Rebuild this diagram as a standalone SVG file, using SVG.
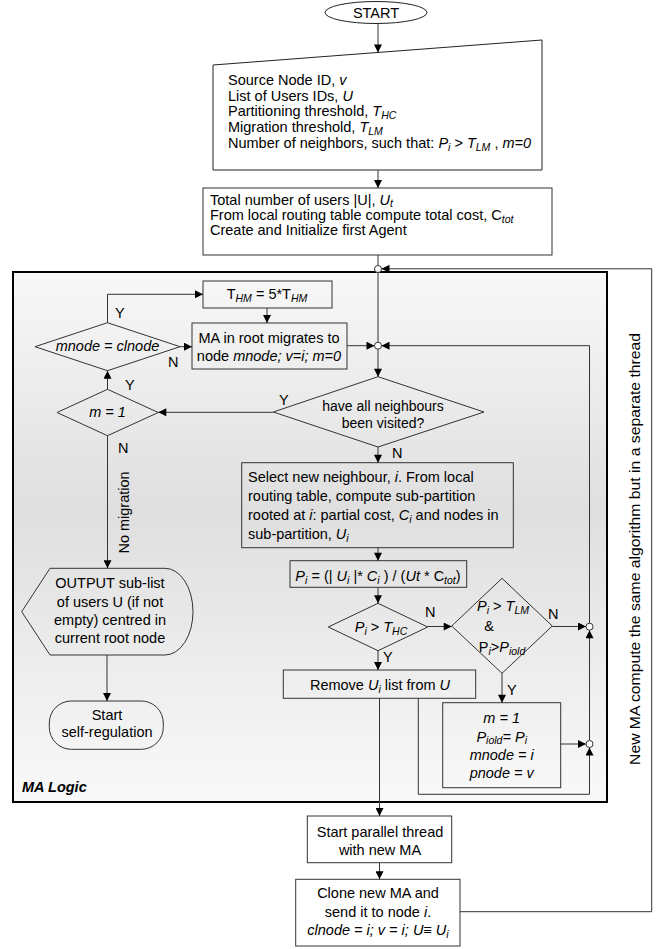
<svg xmlns="http://www.w3.org/2000/svg" width="667" height="949" viewBox="0 0 667 949">
<style>
text{font-family:"Liberation Sans",Arial,sans-serif;font-size:14.5px;fill:#000}
.c{text-anchor:middle}
.i{font-style:italic}
.s{font-size:10.5px}
.n14{font-size:14px}
.box{fill:none;stroke:#333;stroke-width:1}
.wbox{fill:#fff;stroke:#333;stroke-width:1}
.ln{fill:none;stroke:#333;stroke-width:1}
.ar{fill:none;stroke:#333;stroke-width:1;marker-end:url(#ah)}
.jn{fill:#fff;stroke:#333;stroke-width:1}
</style>
<defs>
<marker id="ah" viewBox="0 0 10 10" refX="10" refY="5" markerWidth="9" markerHeight="8" markerUnits="userSpaceOnUse" orient="auto"><path d="M0,0 L10,5 L0,10 z" fill="#000"/></marker>
<linearGradient id="pg" x1="0" y1="0" x2="0" y2="1">
<stop offset="0" stop-color="#f8f8f8"/>
<stop offset="0.45" stop-color="#dfdfdf"/>
<stop offset="1" stop-color="#f9f9f9"/>
</linearGradient>
</defs>
<rect width="667" height="949" fill="#fff"/>

<g id="ma-logic">
<rect x="13" y="272" width="594" height="530" fill="url(#pg)" stroke="#000" stroke-width="2"/>
<text x="22" y="792" font-weight="bold" font-style="italic">MA Logic</text>
</g>

<g id="start">
<ellipse cx="376" cy="12.5" rx="51" ry="11" fill="#fff" stroke="#222"/>
<text class="c" x="376" y="18">START</text>
</g>

<g id="input">
<polygon points="213,65 542,40 542,170 213,170" fill="#fff" stroke="#222"/>
<text x="228" y="85">Source Node ID, <tspan class="i">v</tspan></text>
<text x="228" y="101">List of Users  IDs, <tspan class="i">U</tspan></text>
<text x="228" y="116">Partitioning threshold, <tspan class="i">T</tspan><tspan class="i s" dy="2.5">HC</tspan></text>
<text x="228" y="132">Migration threshold, <tspan class="i">T</tspan><tspan class="i s" dy="2.5">LM</tspan></text>
<text x="228" y="148">Number of neighbors, such that: <tspan class="i">P</tspan><tspan class="i s" dy="2.5">i</tspan><tspan dy="-2.5"> &gt; </tspan><tspan class="i">T</tspan><tspan class="i s" dy="2.5">LM</tspan><tspan dy="-2.5"> , </tspan><tspan class="i">m=0</tspan></text>
</g>

<g id="init">
<rect class="wbox" x="203" y="188" width="349" height="67"/>
<text x="210" y="205">Total number of users |U|, <tspan class="i">U</tspan><tspan class="i s" dy="1.5">t</tspan></text>
<text x="210" y="220">From local routing table compute total cost, C<tspan class="i s" dy="2.5">tot</tspan></text>
<text x="210" y="235">Create and Initialize first Agent</text>
</g>

<g id="thm">
<rect class="box" x="203" y="281" width="129" height="27"/>
<text class="c" x="267" y="299">T<tspan class="i s" dy="2.5">HM</tspan><tspan dy="-2.5"> = 5*T</tspan><tspan class="i s" dy="2.5">HM</tspan></text>
</g>

<g id="migrate">
<rect class="box" x="192" y="323" width="155" height="46"/>
<text class="c" x="269" y="343">MA in root migrates to</text>
<text class="c" x="269" y="361">node <tspan class="i">mnode; v=i; m=0</tspan></text>
</g>

<g id="mnode-dec">
<polygon class="box" points="35,346.7 107.5,322.7 180,346.7 107.5,370.7"/>
<text class="c i" x="107.5" y="351">mnode = clnode</text>
</g>

<g id="m1-dec">
<polygon class="box" points="57,412.5 107.5,389.3 158.3,412.5 107.5,435.7"/>
<text class="c i" x="107.5" y="417">m = 1</text>
</g>

<g id="visited-dec">
<polygon class="box" points="273.3,412 378,376.7 484,412 378,447"/>
<text class="c n14" x="383" y="411">have all neighbours</text>
<text class="c n14" x="383" y="428">been visited?</text>
</g>

<g id="select">
<rect class="box" x="241.7" y="462.7" width="271.6" height="85"/>
<text x="248" y="481.7">Select new neighbour, <tspan class="i">i</tspan>. From local</text>
<text x="248" y="500.7">routing table, compute sub-partition</text>
<text x="248" y="520">rooted at <tspan class="i">i</tspan>: partial cost, <tspan class="i">C</tspan><tspan class="i s" dy="2.5">i</tspan><tspan dy="-2.5"> and nodes in</tspan></text>
<text x="248" y="539">sub-partition, <tspan class="i">U</tspan><tspan class="i s" dy="2.5">i</tspan></text>
</g>

<g id="pi-calc">
<rect class="box" x="290" y="560.7" width="176.7" height="26.6"/>
<text class="c" x="378" y="581"><tspan class="i">P</tspan><tspan class="i s" dy="2.5">i</tspan><tspan dy="-2.5"> = (| </tspan><tspan class="i">U</tspan><tspan class="i s" dy="2.5">i</tspan><tspan dy="-2.5"> |* </tspan><tspan class="i">C</tspan><tspan class="i s" dy="2.5">i</tspan><tspan dy="-2.5"> ) / (</tspan><tspan class="i">Ut</tspan> * C<tspan class="i s" dy="2.5">tot</tspan><tspan dy="-2.5">)</tspan></text>
</g>

<g id="thc-dec">
<polygon class="box" points="328.3,627 378,603.3 427.7,627 378,650.7"/>
<text class="c" x="381" y="632"><tspan class="i">P</tspan><tspan class="i s" dy="2.5">i</tspan><tspan dy="-2.5"> &gt; </tspan><tspan class="i">T</tspan><tspan class="i s" dy="2.5">HC</tspan></text>
</g>

<g id="tlm-dec">
<polygon class="box" points="451.7,626 502,578.3 552.3,626 502,673.3"/>
<text class="c" x="503" y="611"><tspan class="i">P</tspan><tspan class="i s" dy="2.5">i</tspan><tspan dy="-2.5"> &gt; </tspan><tspan class="i">T</tspan><tspan class="i s" dy="2.5">LM</tspan></text>
<text class="c" x="489" y="631">&amp;</text>
<text class="c" x="502" y="652">P<tspan class="i s" dy="2.5">i</tspan><tspan dy="-2.5">&gt;</tspan><tspan class="i">P</tspan><tspan class="i s" dy="2.5">iold</tspan></text>
</g>

<g id="remove">
<rect class="box" x="283.3" y="670" width="192.4" height="28.3"/>
<text class="c" x="380" y="690">Remove <tspan class="i">U</tspan><tspan class="i s" dy="2.5">i</tspan><tspan dy="-2.5"> list from </tspan><tspan class="i">U</tspan></text>
</g>

<g id="update">
<rect class="box" x="442.7" y="702.7" width="118" height="85"/>
<text class="c i" x="501.7" y="723">m = 1</text>
<text class="c i" x="501.7" y="741.7">P<tspan class="s" dy="2.5">iold</tspan><tspan dy="-2.5">= P</tspan><tspan class="s" dy="2.5">i</tspan></text>
<text class="c i" x="501.7" y="760">mnode = i</text>
<text class="c i" x="501.7" y="778">pnode = v</text>
</g>

<g id="output">
<path class="box" d="M21.7,611.7 L50,568.3 L165,568.3 A28,43.35 0 0 1 165,655 L50,655 Z"/>
<text class="c" x="110" y="588.3">OUTPUT sub-list</text>
<text class="c" x="110" y="606.7">of users U (if not</text>
<text class="c" x="110" y="625">empty) centred in</text>
<text class="c" x="110" y="643.3">current root node</text>
</g>

<g id="self-reg">
<rect class="box" x="49.3" y="701" width="114" height="48.3" rx="22" ry="22"/>
<text class="c" x="107" y="720">Start</text>
<text class="c" x="107" y="737">self-regulation</text>
</g>

<g id="parallel">
<rect class="wbox" x="307.3" y="816" width="144.4" height="46.7"/>
<text class="c" x="380" y="836.7">Start parallel thread</text>
<text class="c" x="380" y="855">with new MA</text>
</g>

<g id="clone">
<rect class="wbox" x="295.7" y="879.3" width="164.3" height="66.7"/>
<text class="c" x="378" y="898.3">Clone new MA and</text>
<text class="c" x="378" y="917.3">send it to node <tspan class="i">i</tspan>.</text>
<text class="c i" x="378" y="935">clnode = i; v = i; U≡ U<tspan class="s" dy="2.5">i</tspan></text>
</g>

<g id="connectors">
<line class="ar" x1="378" y1="23.5" x2="378" y2="52.5"/>
<line class="ar" x1="378" y1="170" x2="378" y2="188"/>
<line class="ln" x1="378" y1="255" x2="378" y2="265.5"/>
<line class="ln" x1="378" y1="272.5" x2="378" y2="342.2"/>
<line class="ar" x1="378" y1="349.2" x2="378" y2="376.7"/>
<line class="ar" x1="347" y1="345.7" x2="374.5" y2="345.7"/>
<path class="ar" d="M418.3,698.3 V794.3 H589.5 V747.5"/>
<line class="ar" x1="589.5" y1="740.5" x2="589.5" y2="630.2"/>
<path class="ar" d="M589.5,623.2 V345.7 H381.5"/>
<line class="ar" x1="552.3" y1="626.5" x2="586" y2="626.5"/>
<line class="ar" x1="560.7" y1="744" x2="586" y2="744"/>
<line class="ar" x1="427.7" y1="626.5" x2="451.7" y2="626.5"/>
<line class="ar" x1="378" y1="650.7" x2="378" y2="670"/>
<line class="ar" x1="502" y1="673.3" x2="502" y2="702.7"/>
<line class="ar" x1="378" y1="447" x2="378" y2="462.7"/>
<line class="ar" x1="378" y1="547.7" x2="378" y2="560.7"/>
<line class="ar" x1="378" y1="587.3" x2="378" y2="603.3"/>
<line class="ar" x1="379.5" y1="698.3" x2="379.5" y2="816"/>
<line class="ar" x1="379.5" y1="862.7" x2="379.5" y2="879.3"/>
<path class="ar" d="M460,911.7 H651.7 V268.8 H381.5"/>
<line class="ar" x1="273.3" y1="412.3" x2="158.3" y2="412.3"/>
<line class="ar" x1="107.5" y1="389.3" x2="107.5" y2="370.7"/>
<line class="ar" x1="180" y1="346.7" x2="192" y2="346.7"/>
<path class="ar" d="M107.5,322.7 V294.3 H203"/>
<line class="ar" x1="267" y1="308" x2="267" y2="323"/>
<line class="ar" x1="107.5" y1="435.7" x2="107.5" y2="568.3"/>
<line class="ar" x1="107" y1="655" x2="107" y2="701"/>
<circle class="jn" cx="378" cy="269" r="3.5"/>
<circle class="jn" cx="378" cy="345.7" r="3.5"/>
<circle class="jn" cx="589.5" cy="626.7" r="3.5"/>
<circle class="jn" cx="589.5" cy="744" r="3.5"/>
<text x="115" y="318">Y</text>
<text x="168" y="367">N</text>
<text x="125" y="390">Y</text>
<text x="279" y="405">Y</text>
<text x="392" y="458">N</text>
<text x="425" y="617">N</text>
<text x="383" y="662">Y</text>
<text x="548" y="619">N</text>
<text x="507" y="695">Y</text>
<text x="118" y="453">N</text>
<text class="c" transform="translate(129,512.5) rotate(-90)">No migration</text>
<text class="c" style="font-size:15.5px" textLength="432" lengthAdjust="spacingAndGlyphs" transform="translate(640,549) rotate(-90)">New MA compute the same algorithm but in a separate thread</text>
</g>
</svg>
